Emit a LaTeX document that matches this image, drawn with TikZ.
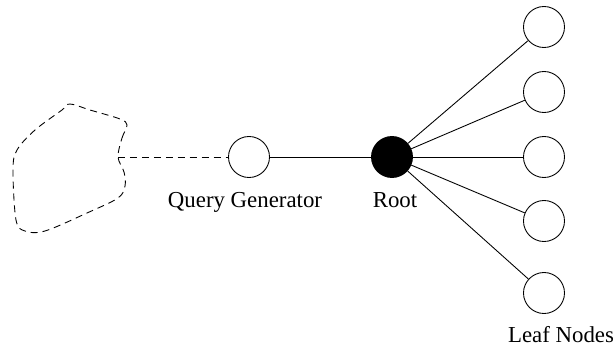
\documentclass[tikz,border=0pt]{standalone}
\usepackage{fontspec}
\setmainfont{Liberation Serif}
\begin{document}
\begin{tikzpicture}[x=0.02cm,y=-0.02cm,
    vertex/.style={circle,draw,line width=0.5pt,minimum size=0.82cm,inner sep=0pt},
    rootvertex/.style={vertex,fill=black},
    edge/.style={line width=0.5pt},
    dashes/.style={dash pattern=on 4pt off 2.8pt},
    tag/.style={anchor=base,inner sep=0pt,font=\fontsize{13}{15}\selectfont}]
            \useasboundingbox (0,0) rectangle (613,345);

            % Draw the cloud of users
            \draw[dashes,line width=0.5pt] plot[smooth cycle,tension=0.55] coordinates {
                (118,157) (122,138) (127,125) (120,119) (90,110) (70,104) (62,110)
                (35,130) (17,150) (13,170) (16,220) (25,231) (45,231) (87,213)
                (118,198) (125,186) (124,172)};
            \coordinate (cloud) at (118,157);

            % Draw the query generator and the root
            \node[vertex] (query) at (249,157) {};
            \node[rootvertex] (root) at (392,157) {};
            \draw[edge,dashes] (cloud) -- (query);
            \draw[edge] (query) -- (root);

            % Draw the leaves and connect them to the root
            \foreach \i/\y in {1/27, 2/92, 3/157, 4/221, 5/293} {
                \node[vertex] (leaf\i) at (544,\y) {};
                \draw[edge] (root) -- (leaf\i);
            }

            % Labels
            \node[tag] (querytag) at (245,207) {Query Generator};
            \node[tag] (roottag) at (395,207) {Root};
            \node[tag] (leaftag) at (561,342) {Leaf Nodes};
        \end{tikzpicture}
\end{document}
